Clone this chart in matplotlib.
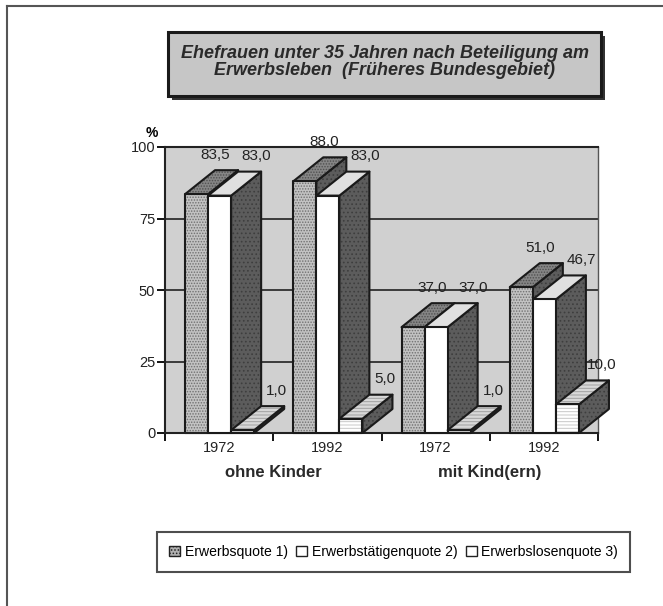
import matplotlib.pyplot as plt
from matplotlib.patches import Polygon, Rectangle, Patch
from matplotlib.lines import Line2D

plt.rcParams['font.family'] = ['Liberation Sans', 'DejaVu Sans']
plt.rcParams['hatch.linewidth'] = 0.7

# data
years = ['1972', '1992', '1972', '1992']
groups = ['ohne Kinder', 'mit Kind(ern)']
series_names = ['Erwerbsquote 1)', 'Erwerbstätigenquote 2)', 'Erwerbslosenquote 3)']
erwerbsquote = [83.5, 88.0, 37.0, 51.0]
erwerbstaetigenquote = [83.0, 83.0, 37.0, 46.7]
erwerbslosenquote = [1.0, 5.0, 1.0, 10.0]
title = 'Ehefrauen unter 35 Jahren nach Beteiligung am\nErwerbsleben  (Früheres Bundesgebiet)'

W, H = 663, 606
fig = plt.figure(figsize=(W / 100, H / 100), dpi=100)

def fx(px):
    return px / W

def fy(py):
    return 1 - py / H

# outer frame (only top and left visible)
fig.add_artist(Line2D([fx(7), fx(7)], [fy(6), 0], transform=fig.transFigure, color='#555555', lw=1.5))
fig.add_artist(Line2D([fx(7), 1], [fy(6), fy(6)], transform=fig.transFigure, color='#555555', lw=1.5))

# title box with shadow
bx0, bx1, by0, by1 = 168, 601, 32, 96
fig.add_artist(Rectangle((fx(bx0 + 4), fy(by1 + 4)), fx(bx1) - fx(bx0), fy(by0) - fy(by1),
                         transform=fig.transFigure, facecolor='#333333', edgecolor='none'))
fig.add_artist(Rectangle((fx(bx0), fy(by1)), fx(bx1) - fx(bx0), fy(by0) - fy(by1),
                         transform=fig.transFigure, facecolor='#c6c6c6', edgecolor='#1a1a1a', lw=2.2))
fig.text(fx((bx0 + bx1) / 2), fy(62), title, ha='center', va='center', fontsize=13,
         fontweight='bold', fontstyle='italic', color='#2a2a2a', linespacing=1.05)

# plot area (back wall)
ax = fig.add_axes([fx(165), fy(433), fx(598) - fx(165), fy(147) - fy(433)])
ax.set_xlim(0, 4)
ax.set_ylim(0, 100)
ax.set_facecolor('#d0d0d0')
ax.set_axisbelow(True)
ax.set_yticks([0, 25, 50, 75, 100])
ax.yaxis.grid(True, color='#3a3a3a', lw=1.4)
for s in ['left', 'bottom', 'top']:
    ax.spines[s].set_linewidth(1.5)
    ax.spines[s].set_color('#222222')
ax.spines['right'].set_color('#555555')
ax.spines['right'].set_linewidth(1.0)
ax.tick_params(axis='y', length=6, width=1.3, labelsize=10.5, pad=1, labelcolor='#222222')
ax.set_xticks([0, 1, 2, 3, 4])
ax.set_xticklabels([])
ax.set_xticks([0.5, 1.5, 2.5, 3.5], minor=True)
ax.set_xticklabels(years, minor=True, fontsize=10.5, color='#222222')
ax.tick_params(axis='x', which='major', length=6, width=1.3)
ax.tick_params(axis='x', which='minor', length=0, pad=6)
ax.text(-0.03, 1.05, '%', transform=ax.transAxes, ha='center', va='center', fontsize=10, fontweight='bold')
for i, g in enumerate(groups):
    ax.text(1 + 2 * i, -0.137, g, transform=ax.get_xaxis_transform(), ha='center', va='center',
            fontsize=12, fontweight='bold', color='#2a2a2a')

# 3d bar style
bw = 0.213
start = 0.185
dx = 30 / (433 / 4)
dy = 24 / 2.86
side_col = '#5c5c5c'
styles = [
    # front, front hatch, top, top hatch
    ('#c2c2c2', '......', '#858585', '......'),
    ('white', None, '#e0e0e0', None),
    ('white', '-----', '#d8d8d8', '-----'),
]
label_dx = [-11, 7, 4]

def face(pts, fc, hatch, z, hc='#777777'):
    ax.add_patch(Polygon(pts, closed=True, facecolor=fc, edgecolor=hc if hatch else fc,
                         hatch=hatch, lw=0, clip_on=False, zorder=z))
    ax.add_patch(Polygon(pts, closed=True, fill=False, edgecolor='#1a1a1a', lw=1.5,
                         joinstyle='round', clip_on=False, zorder=z + 0.01))

values = [erwerbsquote, erwerbstaetigenquote, erwerbslosenquote]
z = 2
for c in range(len(years)):
    for s in range(3):
        h = values[s][c]
        x0 = c + start + s * bw
        x1 = x0 + bw
        fc, fh, tc, th = styles[s]
        face([(x1, 0), (x1 + dx, dy), (x1 + dx, h + dy), (x1, h)], side_col, '....', z, hc='#3e3e3e')
        face([(x0, h), (x1, h), (x1 + dx, h + dy), (x0 + dx, h + dy)], tc, th, z + 0.1,
             hc='#505050' if s == 0 else '#a0a0a0')
        face([(x0, 0), (x1, 0), (x1, h), (x0, h)], fc, fh, z + 0.2, hc='#707070' if s == 0 else '#c8c8c8')
        z += 1
        ax.annotate(f'{h:.1f}'.replace('.', ','), xy=(x0 + bw / 2 + dx, h + dy),
                    xytext=(label_dx[s] * 0.72, 6), textcoords='offset points',
                    ha='center', va='bottom', fontsize=11, color='#222222',
                    annotation_clip=False, zorder=200)

# legend
handles = [Patch(facecolor='#b0b0b0', edgecolor='#222222', hatch='.....'),
           Patch(facecolor='white', edgecolor='#222222'),
           Patch(facecolor='white', edgecolor='#222222')]
leg = fig.legend(handles, series_names, loc='center', bbox_to_anchor=(fx(393.5), fy(552)),
                 ncol=3, fontsize=10.1, fancybox=False, frameon=True, edgecolor='#222222',
                 handlelength=0.8, handleheight=0.8, handletextpad=0.3, columnspacing=0.6,
                 borderpad=0.9, borderaxespad=0)
leg.get_frame().set_linewidth(1.5)

fig.savefig('out.png', dpi=100)
